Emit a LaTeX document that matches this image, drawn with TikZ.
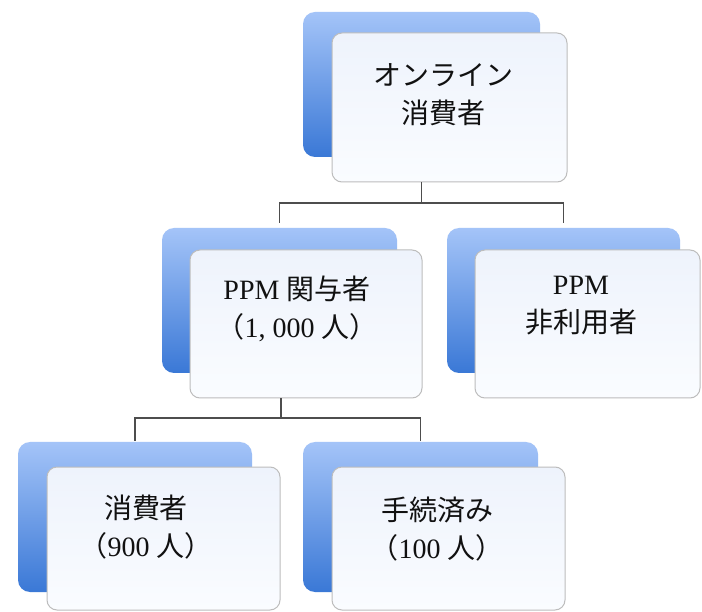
\documentclass[tikz,border=0pt]{standalone}
\usepackage{fontspec}
\setmainfont{Liberation Serif}
\newfontfamily\cjk{Noto Sans CJK JP}
\usetikzlibrary{calc}
\definecolor{bluetop}{HTML}{A4C4F8}
\definecolor{bluebot}{HTML}{3A78D6}
\definecolor{frontA}{HTML}{EEF3FC}
\definecolor{frontB}{HTML}{FAFCFF}
\definecolor{frameC}{HTML}{BDBDBD}
\definecolor{lineC}{HTML}{4D4D4D}
\definecolor{textC}{HTML}{111111}
\begin{document}
\begin{tikzpicture}[x=1pt,y=-1pt,
  backbox/.style={rectangle, rounded corners=12pt, top color=bluetop, bottom color=bluebot, draw=none, inner sep=0pt},
  frontbox/.style={rectangle, rounded corners=10pt, top color=frontA, bottom color=frontB, draw=frameC, line width=1pt, inner sep=0pt},
  txt/.style={align=center, font=\fontsize{28}{38}\selectfont, text=textC, inner sep=0pt},
  conn/.style={draw=lineC, line width=1.3pt}]
\useasboundingbox[fill=white] (0,0) rectangle (702,612);

% top
\node[backbox, minimum width=237pt, minimum height=145pt] (b1) at (421.5,84.5) {};
\node[frontbox, minimum width=235pt, minimum height=149pt] (f1) at (449.5,107.5) {};
\node[txt] (l1) at (443,95) {{\cjk オンライン}\\{\cjk 消費者}};

% middle left
\node[backbox, minimum width=235pt, minimum height=145pt] (b2) at (279.5,300.5) {};
\node[frontbox, minimum width=232pt, minimum height=148pt] (f2) at (306,324) {};
\node[txt] (l2) at (297,309) {PPM {\cjk 関与者}\\{\cjk （}1, 000 {\cjk 人）}};

% middle right
\node[backbox, minimum width=233pt, minimum height=145pt] (b3) at (563.5,300.5) {};
\node[frontbox, minimum width=225pt, minimum height=148pt] (f3) at (587.5,324) {};
\node[txt] (l3) at (581,306) {PPM\\{\cjk 非利用者}};

% bottom left
\node[backbox, minimum width=234pt, minimum height=150pt] (b4) at (135,517) {};
\node[frontbox, minimum width=233pt, minimum height=143pt] (f4) at (163.5,538.5) {};
\node[txt] (l4) at (146,527) {{\cjk 消費者}\\{\cjk （}900 {\cjk 人）}};

% bottom right
\node[backbox, minimum width=235pt, minimum height=150pt] (b5) at (420.5,517) {};
\node[frontbox, minimum width=233pt, minimum height=143pt] (f5) at (448.5,538.5) {};
\node[txt] (l5) at (437,529) {{\cjk 手続済み}\\{\cjk （}100 {\cjk 人）}};

% connectors
\coordinate (j1) at (421.5,203);
\coordinate (j2) at (281,418);
\draw[conn, shorten >=5pt] (b1.center |- f1.south) -- (j1) -| (b2.north);
\draw[conn, shorten >=5pt] (j1) -| (b3.north);
\draw[conn, shorten >=1pt] (j2 |- f2.south) -- (j2) -| (b4.north);
\draw[conn, shorten >=1pt] (j2) -| (b5.north);
\end{tikzpicture}
\end{document}
